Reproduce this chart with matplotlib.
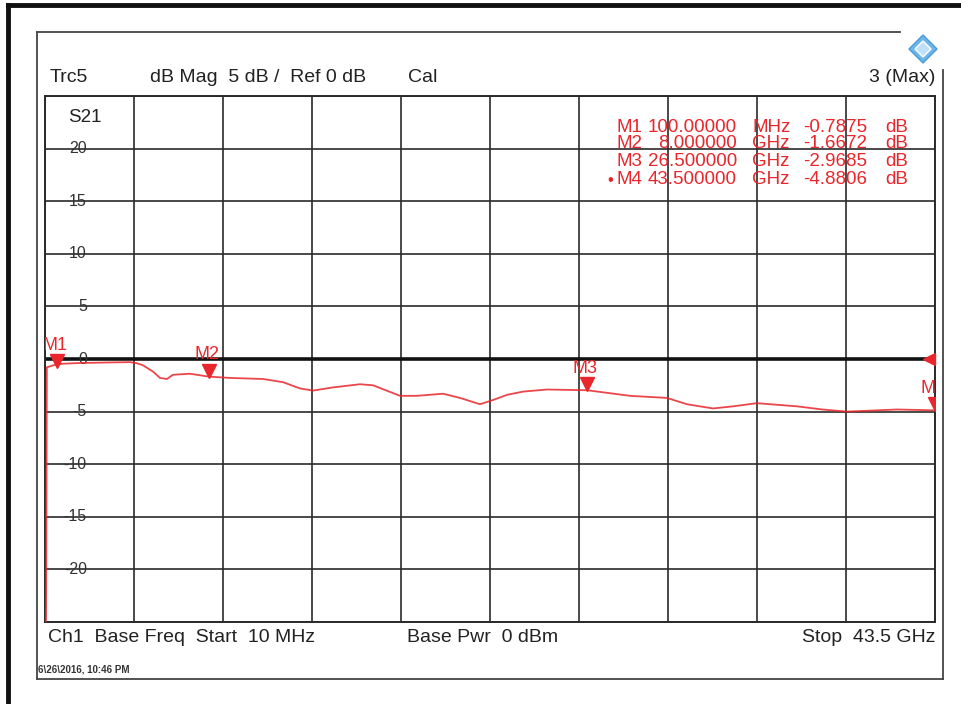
import numpy as np
import matplotlib
matplotlib.use("Agg")
import matplotlib.pyplot as plt
from matplotlib import transforms
from matplotlib.lines import Line2D
from matplotlib.patches import Polygon

plt.rcParams['font.family'] = ['Liberation Sans', 'DejaVu Sans']

# S21 trace (GHz, dB)
freq_ghz = [0.01, 0.07, 0.10, 0.25, 0.50, 0.89, 1.70, 2.55, 3.40, 4.16, 4.50, 4.80,
            5.29, 5.63, 5.97, 6.26, 7.09, 8.00, 9.05, 10.66, 11.64, 12.47, 13.11,
            14.08, 15.40, 16.04, 16.70, 17.36, 18.19, 19.46, 20.29, 21.27, 21.90,
            22.60, 23.37, 24.54, 26.50, 28.60, 30.40, 31.38, 32.65, 33.63, 34.80,
            36.76, 38.00, 39.20, 41.64, 43.50]
s21_db = [-45.0, -20.0, -0.79, -0.70, -0.55, -0.45, -0.38, -0.35, -0.32, -0.30, -0.40, -0.60,
          -1.20, -1.80, -1.90, -1.50, -1.40, -1.67, -1.80, -1.90, -2.20, -2.80, -3.00,
          -2.70, -2.40, -2.50, -3.00, -3.50, -3.50, -3.30, -3.70, -4.30, -3.90,
          -3.40, -3.10, -2.90, -2.97, -3.50, -3.70, -4.30, -4.70, -4.50, -4.20,
          -4.50, -4.80, -5.00, -4.80, -4.88]

marker_names = ['M1', 'M2', 'M3', 'M4']
marker_freq = [0.1, 8.0, 26.5, 43.5]
marker_db = [-0.7875, -1.6672, -2.9685, -4.8806]
marker_freq_text = ['100.00000', '8.000000', '26.500000', '43.500000']
marker_units = ['MHz', 'GHz', 'GHz', 'GHz']

y_labels = [20, 15, 10, 5, 0, -5, -10, -15, -20]

W, H = 961, 704
red = '#e8262b'
txt = '#222222'
fs = 14

fig = plt.figure(figsize=(W / 100, H / 100), dpi=100)


def fx(px):
    return px / W


def fy(py):
    return 1 - py / H


# frames
fig.add_artist(Line2D([fx(8), fx(8)], [0, fy(5)], lw=3.5, color='#111', transform=fig.transFigure))
fig.add_artist(Line2D([fx(8), 1], [fy(5), fy(5)], lw=3.5, color='#111', transform=fig.transFigure))
inner = '#444444'
fig.add_artist(Line2D([fx(37), fx(37)], [fy(679), fy(32)], lw=1.3, color=inner, transform=fig.transFigure))
fig.add_artist(Line2D([fx(37), fx(900)], [fy(32), fy(32)], lw=1.3, color=inner, transform=fig.transFigure))
fig.add_artist(Line2D([fx(943), fx(943)], [fy(679), fy(70)], lw=1.3, color=inner, transform=fig.transFigure))
fig.add_artist(Line2D([fx(37), fx(943)], [fy(679), fy(679)], lw=1.3, color=inner, transform=fig.transFigure))

# logo
fig.add_artist(Polygon([(fx(923), fy(35)), (fx(937), fy(49)), (fx(923), fy(63)), (fx(909), fy(49))],
                       closed=True, facecolor='#6db6ea', edgecolor='#4a9ad6', lw=1, transform=fig.transFigure))
fig.add_artist(Polygon([(fx(923), fy(41)), (fx(931), fy(49)), (fx(923), fy(57)), (fx(915), fy(49))],
                       closed=True, facecolor='#bfe0f7', edgecolor='white', lw=1, transform=fig.transFigure))

ax = fig.add_axes([fx(45), fy(622), fx(935) - fx(45), fy(96) - fy(622)])
ax.set_xlim(0.01, 43.5)
ax.set_ylim(-25, 25)
ax.set_xticks(np.linspace(0.01, 43.5, 11))
ax.set_yticks(np.arange(-25, 26, 5))
ax.tick_params(length=0, labelbottom=False, labelleft=False)
ax.grid(True, color='#2a2a2a', lw=1.2)
for s in ax.spines.values():
    s.set_color('#2a2a2a')
    s.set_linewidth(1.4)
ax.axhline(0, color='#111', lw=2.6, zorder=2)

ylab_tr = transforms.blended_transform_factory(ax.transAxes, ax.transData)
for v in y_labels:
    ax.text(0.047, v, str(v), transform=ylab_tr, ha='right', va='center',
            fontsize=11.5, color='#333')
ax.text(0.045, 0.96, 'S21', transform=ax.transAxes, ha='center', va='center',
        fontsize=13.5, color=txt)

ax.plot(freq_ghz, s21_db, color=red, lw=1.3, alpha=0.85, zorder=3)

# marker symbols; the first one is nudged inside the grid like on the instrument
for i, (name, f, v) in enumerate(zip(marker_names, marker_freq, marker_db)):
    dx = 10 if i == 0 else 0
    tri_tr = transforms.offset_copy(ax.transData, fig=fig, x=dx, y=6, units='dots')
    ax.plot([f], [v], ls='none', marker='v', ms=10, color=red, transform=tri_tr, zorder=4)
    lab_tr = transforms.offset_copy(ax.transData, fig=fig, x=dx - 2, y=22, units='dots')
    t = ax.text(f, v, name, transform=lab_tr, ha='center', va='center', color=red,
                fontsize=13, zorder=5, clip_on=True)
    t.set_clip_box(ax.bbox)

# reference level arrow at right edge
ref_tr = ylab_tr + transforms.ScaledTranslation(-6 / 100, 0, fig.dpi_scale_trans)
ax.plot([1.0], [0], marker='<', ms=9, color=red, transform=ref_tr, clip_on=False, zorder=5)

# marker table
rows_y = [127, 144, 162, 180]
for i, ry in enumerate(rows_y):
    if i == 3:
        fig.text(fx(610), fy(ry), '\u2022', color=red, ha='center', va='center', fontsize=12)
    fig.text(fx(617), fy(ry), marker_names[i], color=red, ha='left', va='center', fontsize=13.5)
    fig.text(fx(737), fy(ry), marker_freq_text[i], color=red, ha='right', va='center', fontsize=13.5)
    fig.text(fx(752), fy(ry), marker_units[i], color=red, ha='left', va='center', fontsize=13.5)
    fig.text(fx(867), fy(ry), '%.4f' % marker_db[i], color=red, ha='right', va='center', fontsize=13.5)
    fig.text(fx(885), fy(ry), 'dB', color=red, ha='left', va='center', fontsize=13.5)

# header / footer
fig.text(fx(50), fy(77), 'Trc5', ha='left', va='center', fontsize=fs, color=txt)
fig.text(fx(150), fy(77), 'dB Mag  5 dB /  Ref 0 dB', ha='left', va='center', fontsize=fs, color=txt)
fig.text(fx(408), fy(77), 'Cal', ha='left', va='center', fontsize=fs, color=txt)
fig.text(fx(935), fy(77), '3 (Max)', ha='right', va='center', fontsize=fs, color=txt)

fig.text(fx(48), fy(638), 'Ch1  Base Freq  Start  10 MHz', ha='left', va='center', fontsize=fs, color=txt)
fig.text(fx(407), fy(638), 'Base Pwr  0 dBm', ha='left', va='center', fontsize=fs, color=txt)
fig.text(fx(935), fy(638), 'Stop  43.5 GHz', ha='right', va='center', fontsize=fs, color=txt)
fig.text(fx(38), fy(670), '6\\26\\2016, 10:46 PM', ha='left', va='center', fontsize=7,
         color='#333', fontweight='bold')

fig.savefig('out.png', dpi=100)
